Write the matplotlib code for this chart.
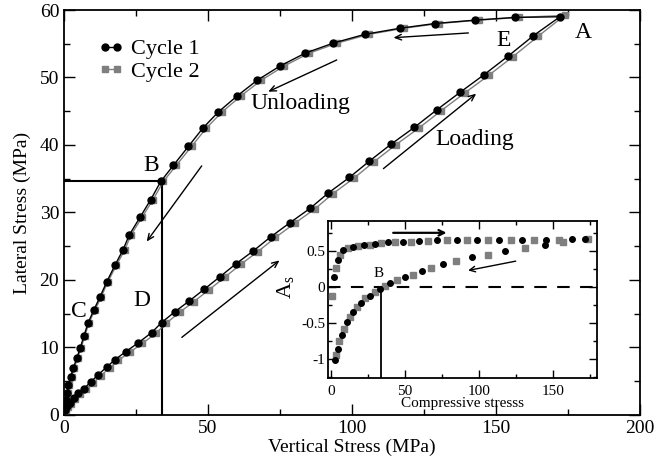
import matplotlib
matplotlib.use("Agg")
import matplotlib.pyplot as plt
from matplotlib.lines import Line2D
from matplotlib.ticker import MultipleLocator

plt.rcParams['font.family'] = ['Liberation Serif', 'DejaVu Serif']
plt.rcParams['mathtext.fontset'] = 'custom'
plt.rcParams['mathtext.rm'] = 'Liberation Serif'
plt.rcParams['mathtext.it'] = 'Liberation Serif:italic'
plt.rcParams['axes.unicode_minus'] = False

# ---------------- main data ----------------
load_x1 = [0.3, 1.0, 2.0, 3.3, 5.0, 6.9, 9.3, 11.7, 14.8, 17.7, 21.5, 25.8, 30.4, 33.9,
           38.5, 43.5, 48.6, 54.2, 59.7, 65.7, 71.8, 78.5, 85.4, 91.8, 99.1, 106.0,
           113.5, 121.6, 129.4, 137.5, 145.8, 154.3, 163.0, 172.2]
load_y1 = [0.8, 1.3, 1.8, 2.5, 3.2, 3.9, 4.9, 5.9, 7.1, 8.2, 9.4, 10.7, 12.2, 13.7,
           15.3, 16.9, 18.6, 20.5, 22.4, 24.3, 26.4, 28.5, 30.6, 32.9, 35.2, 37.6,
           40.1, 42.6, 45.2, 47.8, 50.4, 53.2, 56.2, 59.0]
unload_x1 = [156.6, 142.7, 128.8, 116.7, 104.5, 93.5, 83.7, 75.0, 67.1, 60.2, 53.6, 48.2,
             43.2, 38.0, 33.6, 30.1, 26.4, 22.7, 20.4, 17.7, 14.8, 12.5, 10.4, 8.4, 6.9,
             5.6, 4.4, 3.2, 2.3, 1.5, 1.0, 0.6, 0.3]
unload_y1 = [58.9, 58.5, 58.0, 57.3, 56.4, 55.1, 53.6, 51.7, 49.6, 47.3, 44.9, 42.5,
             39.8, 37.0, 34.6, 31.9, 29.3, 26.7, 24.4, 22.2, 19.7, 17.5, 15.6, 13.7, 11.7,
             9.9, 8.4, 6.9, 5.7, 4.4, 3.2, 2.2, 1.2]

load_x2 = [0.6, 1.4, 2.5, 3.9, 5.7, 7.7, 10.2, 12.7, 15.9, 18.9, 22.8, 27.2, 31.9, 35.5,
           40.1, 45.1, 50.2, 55.8, 61.3, 67.3, 73.4, 80.1, 87.0, 93.4, 100.7, 107.6,
           115.1, 123.2, 131.0, 139.1, 147.4, 155.9, 164.6, 173.8]
load_y2 = [0.7, 1.2, 1.7, 2.4, 3.1, 3.8, 4.8, 5.8, 7.0, 8.1, 9.3, 10.6, 12.1, 13.6,
           15.2, 16.8, 18.5, 20.4, 22.3, 24.2, 26.3, 28.4, 30.5, 32.8, 35.1, 37.5,
           40.0, 42.5, 45.1, 47.7, 50.3, 53.1, 56.1, 59.2]
unload_x2 = [158.0, 144.1, 130.2, 118.1, 105.9, 94.9, 85.1, 76.4, 68.5, 61.5, 54.9, 49.4,
             44.3, 39.0, 34.5, 30.9, 27.1, 23.3, 21.0, 18.2, 15.2, 12.9, 10.8, 8.7, 7.2,
             5.9, 4.7, 3.5, 2.6, 1.8, 1.3, 0.9, 0.6]
unload_y2 = [58.9, 58.5, 58.0, 57.3, 56.4, 55.1, 53.6, 51.7, 49.6, 47.3, 44.9, 42.5,
             39.8, 37.0, 34.6, 31.9, 29.3, 26.7, 24.4, 22.2, 19.7, 17.5, 15.6, 13.7, 11.7,
             9.9, 8.4, 6.9, 5.7, 4.4, 3.2, 2.2, 1.2]

# ---------------- inset data ----------------
in_load_x1 = [2.2, 4.5, 8.3, 15.1, 22.5, 30, 38.5, 48.6, 59.7, 71.8, 85.4, 99, 113.5,
              129.4, 145.8, 163, 172]
in_load_a1 = [0.14, 0.37, 0.51, 0.56, 0.58, 0.60, 0.62, 0.63, 0.64, 0.65, 0.65, 0.65,
              0.66, 0.66, 0.66, 0.67, 0.67]
in_load_x2 = [0.5, 3.4, 6.1, 11.7, 18.4, 26.4, 34, 43.5, 54, 65.7, 78.5, 91.8, 106,
              121.6, 137.5, 154.3, 174]
in_load_a2 = [-0.12, 0.26, 0.45, 0.54, 0.57, 0.59, 0.61, 0.62, 0.63, 0.64, 0.65, 0.65,
              0.66, 0.66, 0.66, 0.66, 0.67]
in_unl_x1 = [144.6, 117.6, 95.1, 75.9, 61.3, 50, 39.9, 33.1, 26.4, 20.3, 15.1, 10.6,
             7.2, 4.5, 2.7]
in_unl_a1 = [0.58, 0.50, 0.42, 0.32, 0.22, 0.14, 0.05, -0.03, -0.12, -0.22, -0.35,
             -0.49, -0.67, -0.86, -1.02]
in_unl_x2 = [157, 131, 106.3, 84.9, 68, 55.6, 44.4, 36.5, 29.7, 23, 17.4, 12.8, 9,
             5.6, 3.4]
in_unl_a2 = [0.62, 0.55, 0.45, 0.36, 0.27, 0.17, 0.09, 0.01, -0.07, -0.16, -0.28,
             -0.42, -0.58, -0.76, -0.95]

point_B = (33.9, 34.6)
inset_B_x = 33.8

grey = '#7f7f7f'

fig = plt.figure(figsize=(6.69, 4.63), dpi=100)
ax = fig.add_axes([0.0957, 0.1037, 0.861, 0.8747])

cyc1_x = load_x1 + unload_x1
cyc1_y = load_y1 + unload_y1
cyc2_x = load_x2 + unload_x2
cyc2_y = load_y2 + unload_y2

ax.plot(cyc2_x, cyc2_y, color=grey, lw=1.0, marker='s', ms=5, mfc=grey, mec=grey, zorder=3)
ax.plot(cyc1_x, cyc1_y, color='black', lw=1.0, marker='o', ms=5, mfc='black', mec='black', zorder=4)

ax.plot([0, point_B[0]], [point_B[1], point_B[1]], color='black', lw=1.5, zorder=2)
ax.plot([point_B[0], point_B[0]], [0, point_B[1]], color='black', lw=1.5, zorder=2)

ax.set_xlim(0, 200)
ax.set_ylim(0, 60)
ax.xaxis.set_major_locator(MultipleLocator(50))
ax.xaxis.set_minor_locator(MultipleLocator(25))
ax.yaxis.set_major_locator(MultipleLocator(10))
ax.yaxis.set_minor_locator(MultipleLocator(5))
ax.tick_params(which='both', direction='in', top=True, right=True, width=1.0, labelsize=14)
ax.tick_params(which='major', length=8)
ax.tick_params(which='minor', length=4)
for s in ax.spines.values():
    s.set_linewidth(1.3)
ax.set_xlabel('Vertical Stress (MPa)', fontsize=14, labelpad=1)
ax.set_ylabel('Lateral Stress (MPa)', fontsize=14, labelpad=6)

arr = dict(arrowstyle='->,head_length=0.45,head_width=0.2', lw=1.0, color='black',
           shrinkA=0, shrinkB=0)
ax.annotate('', xy=(114.4, 55.9), xytext=(140.4, 56.6), arrowprops=arr)
ax.annotate('', xy=(70.9, 47.9), xytext=(94.7, 52.6), arrowprops=arr)
ax.annotate('', xy=(28.7, 25.7), xytext=(47.8, 36.9), arrowprops=arr)
ax.annotate('', xy=(143.1, 47.6), xytext=(110.9, 36.5), arrowprops=arr)
ax.annotate('', xy=(74.8, 22.9), xytext=(40.9, 11.5), arrowprops=arr)

tk = dict(fontsize=17, ha='center', va='center')
ax.text(180.2, 56.6, 'A', **tk)
ax.text(152.5, 55.5, 'E', **tk)
ax.text(30.4, 36.9, 'B', **tk)
ax.text(5.0, 15.3, 'C', **tk)
ax.text(27.0, 17.0, 'D', **tk)
ax.text(82.0, 46.2, 'Unloading', **tk)
ax.text(142.7, 40.8, 'Loading', **tk)

handles = [Line2D([], [], color='black', lw=1.0, marker='o', ms=5),
           Line2D([], [], color=grey, lw=1.0, marker='s', ms=5)]
ax.legend(handles, ['Cycle 1', 'Cycle 2'], loc='upper left', bbox_to_anchor=(0.024, 0.978),
          frameon=False, fontsize=16, numpoints=2, handlelength=1.15, handletextpad=0.35,
          labelspacing=0.1, borderpad=0.4)

# ---------------- inset ----------------
ins = fig.add_axes([0.4903, 0.1836, 0.4021, 0.3391])
ins.plot(in_load_x2, in_load_a2, ls='none', marker='s', ms=4, color=grey, zorder=3)
ins.plot(in_unl_x2, in_unl_a2, ls='none', marker='s', ms=4, color=grey, zorder=3)
ins.plot(in_load_x1, in_load_a1, ls='none', marker='o', ms=4, color='black', zorder=4)
ins.plot(in_unl_x1, in_unl_a1, ls='none', marker='o', ms=4, color='black', zorder=4)
ins.axhline(0, color='black', lw=1.5, dashes=(6, 5), zorder=2)
ins.plot([inset_B_x, inset_B_x], [-1.27, 0], color='black', lw=1.3, zorder=2)
ins.set_xlim(-2, 180)
ins.set_ylim(-1.27, 0.92)
ins.xaxis.set_major_locator(MultipleLocator(50))
ins.xaxis.set_minor_locator(MultipleLocator(25))
ins.yaxis.set_major_locator(MultipleLocator(0.5))
ins.yaxis.set_minor_locator(MultipleLocator(0.25))
ins.set_yticks([-1, -0.5, 0, 0.5])
ins.set_yticklabels(['-1', '-0.5', '0', '0.5'])
ins.set_xticks([0, 50, 100, 150])
ins.set_xticklabels(['0', '50', '100', '150'])
ins.tick_params(which='both', direction='in', top=True, right=True, width=1.0, labelsize=11, pad=2)
ins.tick_params(axis='x', which='major', pad=5)
ins.tick_params(which='major', length=6)
ins.tick_params(which='minor', length=3)
for s in ins.spines.values():
    s.set_linewidth(1.3)
ins.set_xlabel('Compressive stresss', fontsize=11, labelpad=-1)
ins.set_ylabel(r'A$_{\mathrm{s}}$', fontsize=16)
ins.yaxis.set_label_coords(-0.12, 0.58)
ins.text(32, 0.19, 'B', fontsize=11, ha='center', va='center')
arr2 = dict(arrowstyle='->,head_length=0.4,head_width=0.2', lw=1.6, color='black',
            shrinkA=0, shrinkB=0)
ins.annotate('', xy=(78.2, 0.755), xytext=(42.1, 0.755), arrowprops=arr2)
arr3 = dict(arrowstyle='->,head_length=0.4,head_width=0.2', lw=1.0, color='black',
            shrinkA=0, shrinkB=0)
ins.annotate('', xy=(92.8, 0.23), xytext=(125, 0.36), arrowprops=arr3)

fig.savefig('out.png', dpi=100)
